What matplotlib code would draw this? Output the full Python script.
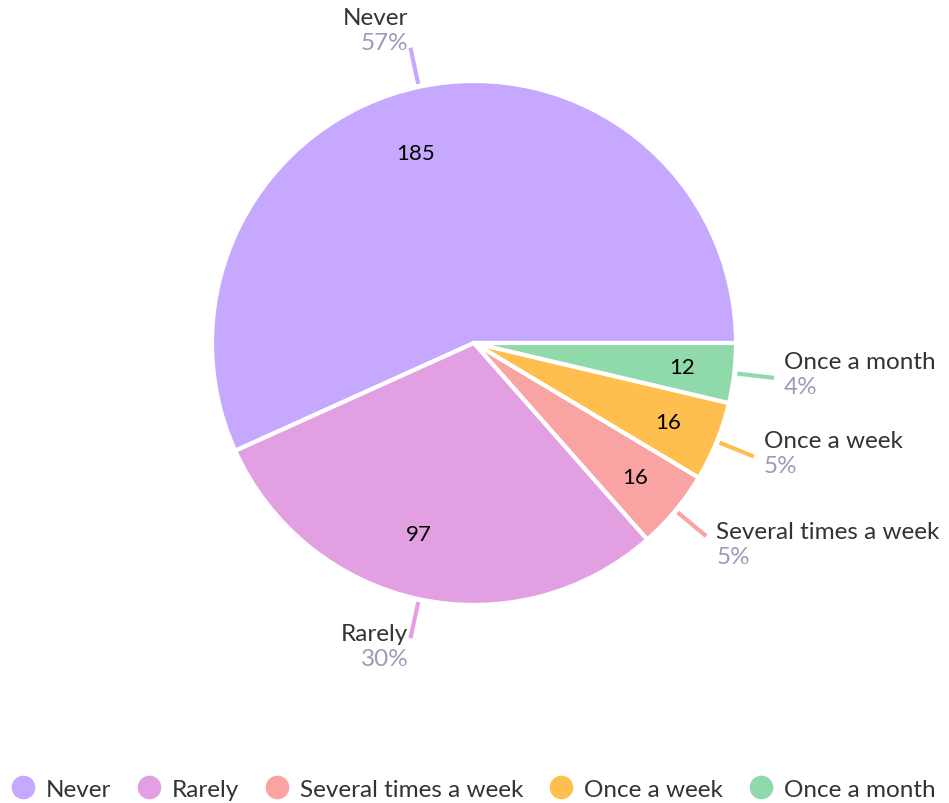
import numpy as np
import matplotlib.pyplot as plt
from matplotlib.lines import Line2D

categories = ["Never", "Rarely", "Several times a week", "Once a week", "Once a month"]
counts = [185, 97, 16, 16, 12]
percent_labels = ["57%", "30%", "5%", "5%", "4%"]
colors = ["#c6a8fe", "#e2a0e3", "#f9a3a3", "#ffbf4f", "#90d9ab"]

plt.rcParams["font.family"] = ["Lato", "DejaVu Sans"]

W, H = 949, 804
fig = plt.figure(figsize=(W / 100, H / 100), dpi=100)
ax = fig.add_axes([0, 0, 1, 1])

cx, cy, R = 474, H - 344, 262
wedges, _ = ax.pie(counts, colors=colors, startangle=0, counterclock=True,
                   center=(cx, cy), radius=R, frame=True,
                   wedgeprops=dict(edgecolor="white", linewidth=3))
ax.set_xlim(0, W)
ax.set_ylim(0, H)
ax.set_aspect("equal")
ax.axis("off")

text_col = "#333333"
pct_col = "#9d9ab8"
for w, n, name, pct, col in zip(wedges, counts, categories, percent_labels, colors):
    mid = (w.theta1 + w.theta2) / 2
    th = np.deg2rad(mid)
    c, s = np.cos(th), np.sin(th)
    # value inside the wedge (big wedges: label nudged a little)
    span = w.theta2 - w.theta1
    lth = th + np.deg2rad(5 if span > 150 else (-4 if span > 60 else 0))
    lr = 0.76 if span > 60 else 0.80
    ax.text(cx + lr * R * np.cos(lth), cy + lr * R * np.sin(lth), str(n),
            ha="center", va="center", fontsize=16, color="black")
    # leader line
    ax.plot([cx + (R + 3) * c, cx + (R + 40) * c], [cy + (R + 3) * s, cy + (R + 40) * s],
            color=col, lw=3, solid_capstyle="butt")
    ex, ey = cx + (R + 40) * c, cy + (R + 40) * s
    if c < 0:
        tx, ha = ex - 2, "right"
    else:
        tx, ha = ex + 10, "left"
    if s > 0.5:
        off = 30
    elif s < -0.5:
        off = 5
    else:
        off = 16
    ax.text(tx, ey + off, name, ha=ha, va="center", fontsize=17.5, color=text_col)
    ax.text(tx, ey + off - 25, pct, ha=ha, va="center", fontsize=17.5, color=pct_col)

handles = [Line2D([], [], marker="o", linestyle="none", markersize=16,
                  markerfacecolor=col, markeredgecolor=col) for col in colors]
fig.legend(handles, categories, loc="lower center", bbox_to_anchor=(0.497, -0.023),
           ncol=5, frameon=False, fontsize=17.5, handletextpad=0.35, columnspacing=0.95,
           handlelength=1.2, labelcolor=text_col)

fig.savefig("out.png", dpi=100)
